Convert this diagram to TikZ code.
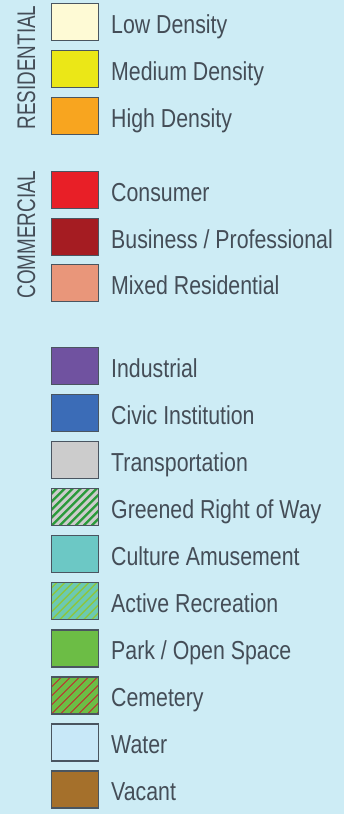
\documentclass[tikz,border=0pt]{standalone}
\usepackage{fontspec}
\setmainfont{Liberation Sans}[FakeStretch=0.82]
\newfontfamily\groupfont{Liberation Sans}[FakeStretch=0.74]
\definecolor{bgblue}{HTML}{CDECF5}
\definecolor{inkgray}{HTML}{444D57}
\definecolor{edgegray}{HTML}{4A5560}
\definecolor{cLow}{HTML}{FEFAD5}
\definecolor{cMed}{HTML}{EBE717}
\definecolor{cHigh}{HTML}{F8A51F}
\definecolor{cCons}{HTML}{E81F27}
\definecolor{cBus}{HTML}{A51C22}
\definecolor{cMix}{HTML}{E9967A}
\definecolor{cInd}{HTML}{7052A0}
\definecolor{cCiv}{HTML}{3B6CB7}
\definecolor{cTrans}{HTML}{CCCCCC}
\definecolor{cGreenLine}{HTML}{2A9A3A}
\definecolor{cCult}{HTML}{6CC8C5}
\definecolor{cActive}{HTML}{6CC9B2}
\definecolor{cLime}{HTML}{8DC63F}
\definecolor{cPark}{HTML}{6CBD45}
\definecolor{cRedLine}{HTML}{C1272D}
\definecolor{cWater}{HTML}{C8E8F8}
\definecolor{cVac}{HTML}{A5702B}
\tikzset{
  swatch/.style={draw=edgegray, line width=1.4pt, minimum width=47pt,
    minimum height=37pt, inner sep=0pt, anchor=north west, fill=#1},
  hatch/.style n args={3}{path picture={
    \foreach \k in {-7,...,7}
      \draw[#1, line width=#2]
        ([xshift=\k*#3]path picture bounding box.south west) -- ++(70,-70);}},
  itemlabel/.style={anchor=base west, inner sep=0pt, text=inkgray,
    font=\fontsize{26}{30}\selectfont},
  grouplabel/.style={rotate=90, anchor=base, inner sep=0pt, text=inkgray,
    font=\groupfont\fontsize{25.5}{30}\selectfont}
}
\begin{document}
\begin{tikzpicture}[x=1pt, y=-1pt]
  \fill[bgblue] (0,0) rectangle (344,814);
  \useasboundingbox (0,0) rectangle (344,814);

  % residential group
  \node[grouplabel] (gres) at (35,67.5) {RESIDENTIAL};
  \node[swatch=cLow]  (s1) at (51,3)   {};
  \node[swatch=cMed]  (s2) at (51,50)  {};
  \node[swatch=cHigh] (s3) at (51,97)  {};
  \node[itemlabel] (t1) at (111,33.5)  {Low Density};
  \node[itemlabel] (t2) at (111,80.5)  {Medium Density};
  \node[itemlabel] (t3) at (111,127.5) {High Density};

  % commercial group
  \node[grouplabel] (gcom) at (35,234.5) {COMMERCIAL};
  \node[swatch=cCons] (s4) at (51,171)   {};
  \node[swatch=cBus]  (s5) at (51,217.5) {};
  \node[swatch=cMix]  (s6) at (51,264)   {};
  \node[itemlabel] (t4) at (111,201.5) {Consumer};
  \node[itemlabel] (t5) at (111,248)   {Business / Professional};
  \node[itemlabel] (t6) at (111,294.5) {Mixed Residential};

  % other land uses
  \node[swatch=cInd]   (s7)  at (51,346.5) {};
  \node[swatch=cCiv]   (s8)  at (51,393.6) {};
  \node[swatch=cTrans] (s9)  at (51,440.7) {};
  \node[swatch=cTrans, hatch={cGreenLine}{2.4pt}{8pt}] (s10) at (51,487.8) {};
  \node[swatch=cCult]  (s11) at (51,534.9) {};
  \node[swatch=cActive, hatch={cLime}{1.4pt}{8pt}] (s12) at (51,582) {};
  \node[swatch=cPark]  (s13) at (51,629.1) {};
  \node[swatch=cPark, hatch={cRedLine}{0.9pt}{9pt}] (s14) at (51,676.2) {};
  \node[swatch=cWater] (s15) at (51,723.3) {};
  \node[swatch=cVac]   (s16) at (51,770.4) {};

  \node[itemlabel] (t7)  at (111,377)   {Industrial};
  \node[itemlabel] (t8)  at (111,424.1) {Civic Institution};
  \node[itemlabel] (t9)  at (111,471.2) {Transportation};
  \node[itemlabel] (t10) at (111,518.3) {Greened Right of Way};
  \node[itemlabel] (t11) at (111,565.4) {Culture Amusement};
  \node[itemlabel] (t12) at (111,612.5) {Active Recreation};
  \node[itemlabel] (t13) at (111,659.6) {Park / Open Space};
  \node[itemlabel] (t14) at (111,706.7) {Cemetery};
  \node[itemlabel] (t15) at (111,753.8) {Water};
  \node[itemlabel] (t16) at (111,800.9) {Vacant};
\end{tikzpicture}
\end{document}
